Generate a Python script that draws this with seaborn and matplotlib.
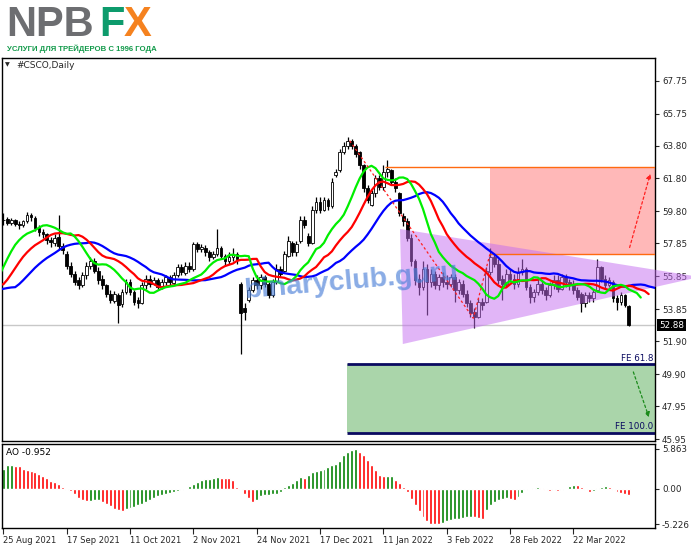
import numpy as np
import pandas as pd
import matplotlib
matplotlib.use("Agg")
import matplotlib.pyplot as plt
from matplotlib.patches import Polygon, Rectangle
import seaborn as sns

# ---- values ----
date_labels = ["25 Aug 2021", "17 Sep 2021", "11 Oct 2021", "2 Nov 2021", "24 Nov 2021",
               "17 Dec 2021", "11 Jan 2022", "3 Feb 2022", "28 Feb 2022", "22 Mar 2022"]
date_bars = [0, 16, 32, 48, 64, 80, 96, 112, 128, 144]
price_ticks = [67.75, 65.75, 63.80, 61.80, 59.80, 57.85, 55.85, 53.85, 51.90, 49.90, 47.95, 45.95]
price_tick_labels = ["67.75", "65.75", "63.80", "61.80", "59.80", "57.85", "55.85", "53.85",
                     "51.90", "49.90", "47.95", "45.95"]
ao_ticks = [5.863, 0.0, -5.226]
ao_tick_labels = ["5.863", "0.00", "-5.226"]
last_price = 52.88

# median prices of the bars before 25 Aug (feed the Alligator lines)
pre_median = [54.6, 54.9, 55.1, 54.8, 55.0, 55.3, 55.2, 55.5, 55.4, 55.7,
              55.6, 55.8, 55.5, 55.7, 55.6, 55.4, 57.6, 58.4, 58.9, 59.2]

opens = [59.25, 59.35, 59.10, 59.25, 59.05, 58.95, 59.20, 59.55, 59.40, 58.80, 58.55, 58.40, 58.05, 57.90, 58.25, 57.70,
         57.20, 56.50, 56.00, 55.60, 55.35, 55.90, 56.50, 56.80, 56.20, 55.70, 55.30, 54.80, 54.35, 54.70, 54.15, 54.90,
         55.50, 54.90, 54.40, 54.25, 55.30, 55.70, 55.40, 55.60, 55.20, 55.50, 55.80, 55.45, 55.90, 56.40, 56.05, 56.50,
         56.30, 57.80, 57.50, 57.60, 57.30, 57.00, 57.20, 57.60, 57.10, 56.80, 57.00, 57.20, 55.40, 53.90, 54.40, 55.00,
         55.60, 55.30, 55.80, 55.40, 54.70, 55.50, 56.30, 56.20, 57.10, 57.90, 57.30, 58.00, 59.30, 58.30, 57.90, 59.90,
         60.40, 59.90, 60.50, 60.10, 62.00, 62.30, 63.40, 63.80, 64.10, 63.80, 63.40, 62.60, 61.20, 60.20, 60.90, 61.80,
         61.30, 62.20, 62.30, 61.60, 60.90, 59.50, 59.20, 58.20, 56.80, 55.70, 55.20, 56.30, 55.50, 56.00, 55.30, 55.80,
         55.50, 55.40, 55.80, 55.00, 55.40, 54.80, 54.20, 53.70, 53.40, 54.30, 54.30, 56.10, 57.00, 56.60, 55.70, 55.40,
         56.00, 55.70, 55.40, 56.10, 56.30, 55.20, 54.60, 54.90, 55.40, 55.00, 54.70, 55.30, 55.60, 55.10, 55.80, 55.50,
         55.30, 55.00, 54.80, 54.20, 54.70, 54.50, 55.00, 56.40, 55.70, 55.30, 55.50, 54.50, 54.30, 54.70, 54.05]
highs = [59.70, 59.45, 59.40, 59.35, 59.20, 59.30, 59.75, 59.70, 59.50, 58.95, 58.70, 58.50, 58.25, 58.40, 59.60, 57.90,
         57.40, 56.70, 56.20, 55.80, 56.10, 56.70, 57.00, 56.95, 56.40, 55.90, 55.40, 55.00, 54.95, 54.85, 55.10, 55.70,
         55.70, 55.00, 54.60, 55.50, 55.90, 55.90, 55.80, 55.75, 55.70, 55.95, 55.95, 56.10, 56.60, 56.60, 56.70, 56.70,
         57.95, 57.95, 57.80, 57.75, 57.45, 57.40, 58.70, 57.70, 57.20, 57.30, 57.60, 57.30, 55.50, 54.20, 55.20, 55.80,
         55.90, 56.00, 55.90, 55.50, 55.70, 56.60, 56.50, 57.40, 58.30, 58.00, 58.00, 59.50, 59.50, 58.50, 60.10, 60.70,
         60.70, 60.70, 60.60, 61.80, 62.40, 63.60, 64.00, 64.30, 64.20, 63.90, 63.50, 62.70, 61.40, 61.10, 62.00, 62.00,
         62.60, 62.90, 62.40, 61.80, 61.00, 59.70, 59.40, 58.40, 56.90, 56.00, 56.80, 56.60, 56.30, 56.20, 56.00, 56.10,
         55.90, 56.00, 56.00, 55.70, 55.60, 55.00, 54.40, 53.90, 54.50, 54.50, 56.40, 57.60, 57.20, 56.90, 55.90, 56.30,
         56.30, 56.00, 56.40, 56.90, 56.40, 55.40, 55.10, 55.70, 55.60, 55.20, 55.50, 55.90, 55.90, 56.00, 56.00, 55.70,
         55.60, 55.20, 54.90, 54.90, 54.90, 55.10, 56.90, 56.50, 55.90, 55.80, 55.60, 54.70, 54.90, 54.80, 54.10]
lows = [59.00, 58.95, 58.95, 58.90, 58.70, 58.85, 59.10, 59.20, 58.60, 58.30, 58.20, 57.80, 57.65, 57.70, 57.50, 57.20,
        56.30, 55.80, 55.30, 55.10, 55.20, 55.70, 56.30, 56.05, 55.40, 55.10, 54.60, 54.20, 54.20, 53.00, 54.00, 54.80,
        54.70, 54.10, 53.90, 54.15, 55.10, 55.20, 55.30, 55.05, 55.10, 55.35, 55.30, 55.30, 55.80, 55.90, 55.90, 56.10,
        56.20, 57.30, 57.30, 57.10, 56.80, 56.90, 57.10, 56.90, 56.50, 56.60, 56.80, 56.60, 51.10, 53.20, 54.30, 54.90,
        55.10, 55.10, 55.20, 54.50, 54.60, 55.40, 55.80, 56.10, 57.00, 57.10, 57.10, 57.90, 58.80, 57.70, 57.80, 59.70,
        59.70, 59.80, 59.90, 60.00, 61.90, 62.20, 63.30, 63.60, 63.60, 63.10, 62.40, 61.00, 60.30, 60.10, 60.70, 61.10,
        61.10, 61.90, 61.40, 61.00, 59.50, 58.90, 58.00, 56.50, 55.30, 54.70, 55.00, 53.50, 55.20, 55.10, 55.00, 55.20,
        55.10, 55.20, 54.30, 54.80, 54.60, 54.00, 53.40, 52.70, 53.30, 53.80, 54.20, 55.90, 56.40, 55.40, 54.40, 55.20,
        55.50, 55.10, 55.20, 55.90, 55.00, 54.20, 54.30, 54.70, 54.80, 54.40, 54.60, 55.10, 54.90, 55.00, 55.20, 55.00,
        54.80, 54.40, 53.70, 54.00, 54.30, 54.30, 54.90, 55.50, 55.10, 55.20, 54.30, 53.80, 54.10, 54.00, 52.80]
closes = [59.30, 59.10, 59.25, 59.05, 58.95, 59.20, 59.55, 59.45, 58.80, 58.55, 58.40, 58.05, 57.95, 58.20, 57.70, 57.45,
          56.50, 56.00, 55.50, 55.30, 55.90, 56.50, 56.80, 56.20, 55.60, 55.30, 54.80, 54.40, 54.75, 54.10, 54.90, 55.50,
          54.90, 54.30, 54.20, 55.30, 55.70, 55.40, 55.60, 55.20, 55.50, 55.80, 55.50, 55.90, 56.40, 56.10, 56.50, 56.30,
          57.80, 57.50, 57.65, 57.30, 57.00, 57.20, 57.60, 57.10, 56.80, 57.00, 57.20, 56.90, 53.60, 53.70, 55.00, 55.60,
          55.30, 55.80, 55.40, 54.70, 55.50, 56.30, 56.00, 57.20, 58.00, 57.30, 57.80, 59.30, 59.00, 57.90, 59.90, 60.40,
          59.90, 60.50, 60.10, 61.60, 62.20, 63.40, 63.80, 64.10, 63.80, 63.30, 62.60, 61.20, 60.50, 60.90, 61.80, 61.30,
          62.20, 62.40, 61.60, 61.20, 59.70, 59.20, 58.20, 56.80, 55.60, 55.20, 56.30, 55.50, 56.00, 55.30, 55.80, 55.50,
          55.40, 55.80, 55.00, 55.50, 54.80, 54.20, 53.60, 53.40, 54.30, 54.10, 56.20, 57.00, 56.60, 55.60, 55.40, 56.00,
          55.70, 55.40, 56.10, 56.30, 55.20, 54.60, 54.90, 55.40, 55.00, 54.70, 55.30, 55.60, 55.10, 55.80, 55.50, 55.30,
          55.00, 54.60, 54.20, 54.70, 54.50, 54.90, 56.40, 55.70, 55.30, 55.60, 54.50, 54.30, 54.70, 54.10, 52.88]
ao = [2.94, 3.43, 3.45, 3.38, 3.28, 2.94, 2.79, 2.60, 2.45, 2.20, 1.81, 1.57, 1.13, 0.93, 0.64, 0.25,
      -0.15, -0.34, -0.74, -1.32, -1.72, -1.86, -1.76, -1.72, -1.70, -1.96, -2.20, -2.60, -2.94, -3.19, -3.33, -3.04,
      -2.84, -2.70, -2.45, -2.20, -1.91, -1.62, -1.32, -1.13, -0.88, -0.74, -0.59, -0.49, -0.34, -0.20, -0.05, 0.34,
      0.74, 0.98, 1.23, 1.37, 1.47, 1.62, 1.72, 1.62, 1.57, 1.55, 1.32, 0.25, -0.25, -0.74, -1.32, -1.96,
      -1.62, -1.13, -0.98, -0.88, -0.83, -0.74, -0.49, 0.25, 0.49, 0.83, 1.23, 1.72, 1.57, 1.96, 2.45, 2.60,
      2.70, 2.94, 3.19, 3.43, 3.68, 4.12, 4.90, 5.40, 5.74, 5.863, 5.40, 4.90, 4.17, 3.43, 2.79, 2.06,
      1.81, 1.91, 1.92, 1.32, 0.83, 0.25, -0.49, -1.47, -2.45, -3.33, -4.17, -4.80, -5.15, -5.20, -5.226, -5.00,
      -4.80, -4.65, -4.50, -4.40, -4.30, -4.20, -4.10, -4.15, -4.30, -4.40, -3.20, -2.40, -1.90, -1.60, -1.50, -1.30,
      -1.55, -1.60, -1.20, -0.70, -0.25, -0.10, 0.10, 0.25, 0.10, -0.15, -0.35, -0.25, -0.35, -0.15, -0.05, 0.35,
      0.60, 0.50, 0.25, -0.15, -0.50, -0.35, 0.05, 0.25, 0.35, 0.25, -0.15, -0.50, -0.65, -0.85, -0.952]

# drawn objects (bar index, price)
triangle = [(100.2, 58.73), (100.9, 51.73), (175.9, 55.81)]
fib_path = [(87.5, 64.1), (118.7, 53.3), (122.9, 57.19)]
target_up = (62.52, 57.19)      # resistance box top / bottom
target_down = (50.50, 46.34)    # FE 61.8 / FE 100.0

# ---- figure ----
sns.set_style("white")
plt.rcParams["font.family"] = ["DejaVu Sans"]

W, H = 691, 549
fig = plt.figure(figsize=(W / 100, H / 100), dpi=100)
ax = fig.add_axes([2 / W, 1 - 441 / H, 653 / W, 383 / H])
ax_ao = fig.add_axes([2 / W, 1 - 528 / H, 653 / W, 84 / H])

n = len(closes)
bars = np.arange(n)
df = pd.DataFrame({"bar": bars, "open": opens, "high": highs, "low": lows, "close": closes})
x_right = 164.6

# target zones
ax.add_patch(Rectangle((122.9, target_up[1]), x_right - 122.9, target_up[0] - target_up[1],
                       facecolor="#ffb8b8", edgecolor="none", zorder=1))
ax.add_patch(Rectangle((86.8, target_down[1]), x_right - 86.8, target_down[0] - target_down[1],
                       facecolor="#aad5aa", edgecolor="none", zorder=1))
ax.hlines(target_down, 86.8, x_right, color="#0a0a60", lw=2, zorder=1.5)
ax.axhline(last_price, color="#c8c8c8", lw=1, zorder=1.2)

# candles
up = df.close >= df.open
ax.vlines(df.bar, df.low, df.high, color="black", lw=0.9, zorder=2)
body_lo = np.minimum(df.open, df.close)
body_h = np.maximum(np.abs(df.close - df.open), 0.04)
ax.bar(df.bar, body_h, bottom=body_lo, width=0.7, color=np.where(up, "white", "black"),
       edgecolor="black", lw=0.6, zorder=3)

# triangle over the candles
ax.add_patch(Polygon(triangle, closed=True, facecolor="#c46cf0", alpha=0.5, edgecolor="none",
                     zorder=4, clip_on=False))

# resistance lines
ax.hlines(target_up[0], 96.4, x_right, color="#ff6a10", lw=1, zorder=4.5)
ax.hlines(target_up[1], 122.9, x_right, color="#ff6a10", lw=1, zorder=4.5)

# Alligator (SMMA of median price, shifted forward)
median = pd.Series(pre_median + list((df.high + df.low) / 2))
npre = len(pre_median)
for period, shift, color in [(13, 8, "#0000ff"), (8, 5, "#ff0000"), (5, 3, "#00ee00")]:
    smma = median.ewm(alpha=1 / period, adjust=False).mean()
    xs = np.arange(len(median)) - npre + shift
    keep = xs >= -1
    sns.lineplot(x=xs[keep], y=smma.values[keep], color=color, lw=1.6, ax=ax, zorder=5)

# fibo expansion path and target arrows
fx, fy = zip(*fib_path)
ax.plot(fx, fy, color="#ff2020", lw=0.9, ls=(0, (2, 2)), zorder=5.5)
ax.annotate("", xy=(163.6, 62.25), xytext=(158.0, 57.44),
            arrowprops=dict(arrowstyle="-|>", color="#ff2020", lw=0.9, ls=(0, (2, 2)),
                            mutation_scale=7), zorder=5.5)
ax.annotate("", xy=(163.3, 47.11), xytext=(158.9, 50.19),
            arrowprops=dict(arrowstyle="-|>", color="#1a8a1a", lw=0.9, ls=(0, (2, 2)),
                            mutation_scale=7), zorder=5.5)
ax.text(x_right - 0.5, target_down[0] + 0.1, "FE 61.8", ha="right", va="bottom",
        fontsize=6.3, color="#0a0a60", zorder=6)
ax.text(x_right - 0.5, target_down[1] + 0.1, "FE 100.0", ha="right", va="bottom",
        fontsize=6.3, color="#0a0a60", zorder=6)

# watermark
ax.text(87.8, 55.55, "binaryclub.guru", fontsize=20.5, fontweight="bold",
        family=["Liberation Sans", "DejaVu Sans"], color="#4a7fd8", alpha=0.65,
        rotation=5, rotation_mode="anchor", ha="center", va="center", zorder=7)

ax.set_xlim(-0.33, x_right)
ax.set_ylim(45.83, 69.13)
ax.set_xticks([])
ax.yaxis.tick_right()
ax.set_yticks(price_ticks, price_tick_labels)
ax.tick_params(axis="y", length=3, width=0.8, pad=2, labelsize=6.3, direction="out", right=True)
ax.set_xlabel("")
ax.set_ylabel("")
ax.text(1.006, last_price, f"{last_price:.2f}", transform=ax.get_yaxis_transform(),
        ha="left", va="center", fontsize=6.3, color="white",
        bbox=dict(facecolor="black", edgecolor="none", pad=1.2), zorder=8)

# Awesome Oscillator
ao_df = pd.DataFrame({"bar": bars, "ao": ao})
ao_df["dir"] = np.where(ao_df.ao.diff().fillna(1) > 0, "up", "down")
sns.barplot(data=ao_df, x="bar", y="ao", hue="dir", palette={"up": "#008000", "down": "#ff0000"},
            native_scale=True, width=0.75, dodge=False, legend=False, errorbar=None,
            saturation=1, ax=ax_ao)
ax_ao.set_xlim(-0.33, x_right)
ax_ao.set_ylim(-5.79, 6.59)
ax_ao.yaxis.tick_right()
ax_ao.set_yticks(ao_ticks, ao_tick_labels)
ax_ao.set_xticks(date_bars, date_labels)
for lab in ax_ao.get_xticklabels():
    lab.set_horizontalalignment("left")
ax_ao.tick_params(axis="y", length=3, width=0.8, pad=2, labelsize=6.3, direction="out", right=True)
ax_ao.tick_params(axis="x", length=4, width=0.8, pad=2, labelsize=6.0, direction="out", bottom=True)
ax_ao.set_xlabel("")
ax_ao.set_ylabel("")
ax_ao.text(0.006, 0.9, f"AO {ao[-1]:.3f}", transform=ax_ao.transAxes, ha="left", va="center",
           fontsize=6.5, color="black")

for a in (ax, ax_ao):
    for s in a.spines.values():
        s.set_visible(True)
        s.set_color("black")
        s.set_linewidth(1)

# header and logo
fig.text(5 / W, 1 - 65 / H, "\u25bc", fontsize=4.5, va="center", ha="left")
fig.text(16 / W, 1 - 65 / H, "#CSCO,Daily", fontsize=6.5, va="center", ha="left")
logo_font = ["Liberation Sans", "DejaVu Sans"]
fig.text(6 / W, 1 - 36 / H, "NPB", fontsize=30, fontweight="bold", family=logo_font,
         color="#6d6e71", va="baseline", ha="left")
fig.text(99 / W, 1 - 36 / H, "F", fontsize=30, fontweight="bold", family=logo_font,
         color="#0d9b6c", va="baseline", ha="left")
fig.text(124 / W, 1 - 36 / H, "X", fontsize=30, fontweight="bold", family=logo_font,
         color="#f5821f", va="baseline", ha="left")
fig.text(7 / W, 1 - 49 / H, "УСЛУГИ ДЛЯ ТРЕЙДЕРОВ С 1996 ГОДА", fontsize=5.6, fontweight="bold",
         family=["Liberation Sans", "DejaVu Sans"], color="#129a4a",
         va="center", ha="left")

fig.savefig("out.png", dpi=100)
